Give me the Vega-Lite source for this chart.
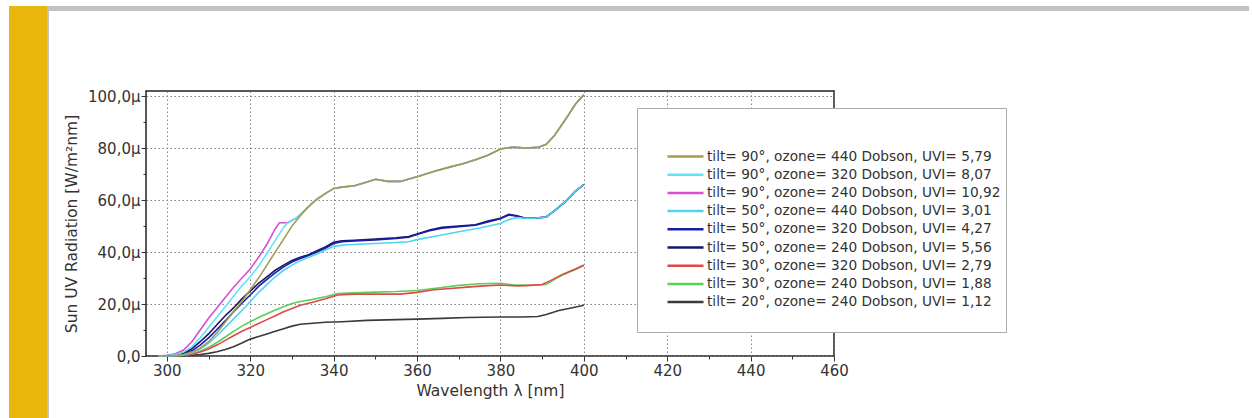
{
  "$schema": "https://vega.github.io/schema/vega-lite/v6.json",
  "background": "white",
  "padding": {"left": 9, "top": 6, "right": 0, "bottom": 0},
  "bounds": "flush",
  "spacing": 0,
  "config": {
    "font": "DejaVu Sans",
    "view": {"stroke": null}
  },
  "datasets": {
    "series": [
      {"code": "A", "label": "tilt= 90°, ozone= 440 Dobson, UVI= 5,79"},
      {"code": "B", "label": "tilt= 90°, ozone= 320 Dobson, UVI= 8,07"},
      {"code": "C", "label": "tilt= 90°, ozone= 240 Dobson, UVI= 10,92"},
      {"code": "D", "label": "tilt= 50°, ozone= 440 Dobson, UVI= 3,01"},
      {"code": "E", "label": "tilt= 50°, ozone= 320 Dobson, UVI= 4,27"},
      {"code": "F", "label": "tilt= 50°, ozone= 240 Dobson, UVI= 5,56"},
      {"code": "G", "label": "tilt= 30°, ozone= 320 Dobson, UVI= 2,79"},
      {"code": "H", "label": "tilt= 30°, ozone= 240 Dobson, UVI= 1,88"},
      {"code": "I", "label": "tilt= 20°, ozone= 240 Dobson, UVI= 1,12"}
    ],
    "spectra": [
      {"code":"I","nm":298,"v":0},{"code":"I","nm":304,"v":0.1},{"code":"I","nm":306,"v":0.3},{"code":"I","nm":308,"v":0.6},{"code":"I","nm":310,"v":1},{"code":"I","nm":312,"v":1.6},{"code":"I","nm":314,"v":2.5},{"code":"I","nm":316,"v":3.6},{"code":"I","nm":318,"v":5},{"code":"I","nm":320,"v":6.5},{"code":"I","nm":322,"v":7.5},{"code":"I","nm":324,"v":8.5},{"code":"I","nm":326,"v":9.5},{"code":"I","nm":328,"v":10.5},{"code":"I","nm":330,"v":11.5},{"code":"I","nm":332,"v":12.2},{"code":"I","nm":335,"v":12.6},{"code":"I","nm":338,"v":13},{"code":"I","nm":342,"v":13.2},{"code":"I","nm":348,"v":13.7},{"code":"I","nm":355,"v":14},{"code":"I","nm":360,"v":14.2},{"code":"I","nm":366,"v":14.5},{"code":"I","nm":372,"v":14.8},{"code":"I","nm":380,"v":15},{"code":"I","nm":385,"v":15},{"code":"I","nm":389,"v":15.2},{"code":"I","nm":391,"v":16},{"code":"I","nm":394,"v":17.5},{"code":"I","nm":397,"v":18.5},{"code":"I","nm":400,"v":19.5},
      {"code":"H","nm":298,"v":0},{"code":"H","nm":302,"v":0.1},{"code":"H","nm":304,"v":0.3},{"code":"H","nm":306,"v":0.8},{"code":"H","nm":308,"v":1.8},{"code":"H","nm":310,"v":3.3},{"code":"H","nm":312,"v":5.2},{"code":"H","nm":314,"v":7.3},{"code":"H","nm":316,"v":9.5},{"code":"H","nm":318,"v":11.5},{"code":"H","nm":320,"v":13.2},{"code":"H","nm":322,"v":14.8},{"code":"H","nm":324,"v":16.3},{"code":"H","nm":326,"v":17.7},{"code":"H","nm":328,"v":19},{"code":"H","nm":330,"v":20.2},{"code":"H","nm":332,"v":21},{"code":"H","nm":335,"v":21.8},{"code":"H","nm":338,"v":22.8},{"code":"H","nm":341,"v":24},{"code":"H","nm":345,"v":24.3},{"code":"H","nm":350,"v":24.6},{"code":"H","nm":355,"v":24.8},{"code":"H","nm":360,"v":25.2},{"code":"H","nm":365,"v":26.2},{"code":"H","nm":370,"v":27.2},{"code":"H","nm":375,"v":27.8},{"code":"H","nm":380,"v":28},{"code":"H","nm":383,"v":27.4},{"code":"H","nm":386,"v":27.2},{"code":"H","nm":389,"v":27.3},{"code":"H","nm":391,"v":27.5},{"code":"H","nm":393,"v":29.5},{"code":"H","nm":395,"v":31.3},{"code":"H","nm":398,"v":33.3},{"code":"H","nm":400,"v":34.8},
      {"code":"G","nm":298,"v":0},{"code":"G","nm":302,"v":0.1},{"code":"G","nm":304,"v":0.3},{"code":"G","nm":306,"v":0.7},{"code":"G","nm":308,"v":1.5},{"code":"G","nm":310,"v":2.7},{"code":"G","nm":312,"v":4.2},{"code":"G","nm":314,"v":6},{"code":"G","nm":316,"v":7.8},{"code":"G","nm":318,"v":9.5},{"code":"G","nm":320,"v":11},{"code":"G","nm":322,"v":12.5},{"code":"G","nm":324,"v":14},{"code":"G","nm":326,"v":15.5},{"code":"G","nm":328,"v":17},{"code":"G","nm":330,"v":18.3},{"code":"G","nm":332,"v":19.5},{"code":"G","nm":335,"v":20.7},{"code":"G","nm":338,"v":22},{"code":"G","nm":341,"v":23.5},{"code":"G","nm":345,"v":23.8},{"code":"G","nm":350,"v":23.8},{"code":"G","nm":356,"v":23.8},{"code":"G","nm":360,"v":24.5},{"code":"G","nm":364,"v":25.5},{"code":"G","nm":368,"v":26},{"code":"G","nm":372,"v":26.5},{"code":"G","nm":376,"v":27},{"code":"G","nm":380,"v":27.3},{"code":"G","nm":384,"v":27},{"code":"G","nm":387,"v":27.2},{"code":"G","nm":390,"v":27.5},{"code":"G","nm":392,"v":29},{"code":"G","nm":395,"v":31.5},{"code":"G","nm":398,"v":33.5},{"code":"G","nm":400,"v":35},
      {"code":"F","nm":298,"v":0},{"code":"F","nm":300,"v":0.2},{"code":"F","nm":302,"v":0.5},{"code":"F","nm":304,"v":1.2},{"code":"F","nm":306,"v":2.8},{"code":"F","nm":308,"v":5.5},{"code":"F","nm":310,"v":8.5},{"code":"F","nm":312,"v":12},{"code":"F","nm":314,"v":15.5},{"code":"F","nm":316,"v":18.5},{"code":"F","nm":318,"v":22},{"code":"F","nm":320,"v":25},{"code":"F","nm":322,"v":28},{"code":"F","nm":324,"v":30.5},{"code":"F","nm":326,"v":33},{"code":"F","nm":328,"v":35},{"code":"F","nm":330,"v":36.8},{"code":"F","nm":332,"v":38},{"code":"F","nm":334,"v":39},{"code":"F","nm":336,"v":40.5},{"code":"F","nm":338,"v":42},{"code":"F","nm":340,"v":43.8},{"code":"F","nm":342,"v":44.3},{"code":"F","nm":345,"v":44.5},{"code":"F","nm":350,"v":45},{"code":"F","nm":355,"v":45.5},{"code":"F","nm":358,"v":46},{"code":"F","nm":360,"v":47},{"code":"F","nm":363,"v":48.5},{"code":"F","nm":366,"v":49.5},{"code":"F","nm":370,"v":50},{"code":"F","nm":374,"v":50.5},{"code":"F","nm":377,"v":52},{"code":"F","nm":380,"v":53},{"code":"F","nm":382,"v":54.5},{"code":"F","nm":384,"v":54},{"code":"F","nm":386,"v":53},{"code":"F","nm":388,"v":53},{"code":"F","nm":391,"v":53.5},{"code":"F","nm":393,"v":56},{"code":"F","nm":396,"v":60},{"code":"F","nm":398,"v":63.5},{"code":"F","nm":400,"v":66},
      {"code":"E","nm":298,"v":0},{"code":"E","nm":300,"v":0.1},{"code":"E","nm":302,"v":0.3},{"code":"E","nm":304,"v":0.8},{"code":"E","nm":306,"v":2},{"code":"E","nm":308,"v":4.2},{"code":"E","nm":310,"v":7},{"code":"E","nm":312,"v":10.2},{"code":"E","nm":314,"v":13.5},{"code":"E","nm":316,"v":17},{"code":"E","nm":318,"v":20.3},{"code":"E","nm":320,"v":23.5},{"code":"E","nm":322,"v":26.8},{"code":"E","nm":324,"v":29.5},{"code":"E","nm":326,"v":32},{"code":"E","nm":328,"v":34.3},{"code":"E","nm":330,"v":36.2},{"code":"E","nm":332,"v":37.5},{"code":"E","nm":334,"v":38.7},{"code":"E","nm":336,"v":40},{"code":"E","nm":338,"v":41.5},{"code":"E","nm":340,"v":43.3},{"code":"E","nm":342,"v":44},{"code":"E","nm":345,"v":44.3},{"code":"E","nm":350,"v":44.7},{"code":"E","nm":355,"v":45.2},{"code":"E","nm":358,"v":45.7},{"code":"E","nm":360,"v":46.8},{"code":"E","nm":363,"v":48.2},{"code":"E","nm":366,"v":49.2},{"code":"E","nm":370,"v":49.8},{"code":"E","nm":374,"v":50.3},{"code":"E","nm":377,"v":51.6},{"code":"E","nm":380,"v":52.8},{"code":"E","nm":382,"v":54.3},{"code":"E","nm":384,"v":53.8},{"code":"E","nm":386,"v":53},{"code":"E","nm":388,"v":53},{"code":"E","nm":391,"v":53.5},{"code":"E","nm":393,"v":56},{"code":"E","nm":396,"v":60},{"code":"E","nm":398,"v":63.5},{"code":"E","nm":400,"v":66},
      {"code":"D","nm":298,"v":0},{"code":"D","nm":302,"v":0.1},{"code":"D","nm":304,"v":0.4},{"code":"D","nm":306,"v":1.2},{"code":"D","nm":308,"v":2.7},{"code":"D","nm":310,"v":5},{"code":"D","nm":312,"v":7.8},{"code":"D","nm":314,"v":11},{"code":"D","nm":316,"v":14.3},{"code":"D","nm":318,"v":17.5},{"code":"D","nm":320,"v":21},{"code":"D","nm":322,"v":24.5},{"code":"D","nm":324,"v":27.5},{"code":"D","nm":326,"v":30.5},{"code":"D","nm":328,"v":33},{"code":"D","nm":330,"v":35},{"code":"D","nm":332,"v":36.7},{"code":"D","nm":334,"v":38},{"code":"D","nm":336,"v":39.3},{"code":"D","nm":338,"v":40.8},{"code":"D","nm":340,"v":42.2},{"code":"D","nm":343,"v":42.8},{"code":"D","nm":346,"v":43},{"code":"D","nm":350,"v":43.3},{"code":"D","nm":355,"v":43.7},{"code":"D","nm":358,"v":44},{"code":"D","nm":360,"v":44.8},{"code":"D","nm":365,"v":46.3},{"code":"D","nm":370,"v":47.8},{"code":"D","nm":375,"v":49.3},{"code":"D","nm":380,"v":51},{"code":"D","nm":382,"v":52.5},{"code":"D","nm":384,"v":53.3},{"code":"D","nm":386,"v":53},{"code":"D","nm":388,"v":53},{"code":"D","nm":391,"v":53.5},{"code":"D","nm":393,"v":56},{"code":"D","nm":396,"v":60},{"code":"D","nm":398,"v":63.5},{"code":"D","nm":400,"v":66},
      {"code":"C","nm":298,"v":0},{"code":"C","nm":300,"v":0.3},{"code":"C","nm":302,"v":0.9},{"code":"C","nm":304,"v":2.3},{"code":"C","nm":306,"v":5.5},{"code":"C","nm":308,"v":10},{"code":"C","nm":310,"v":14.5},{"code":"C","nm":312,"v":18.5},{"code":"C","nm":314,"v":22.5},{"code":"C","nm":316,"v":26.5},{"code":"C","nm":318,"v":30},{"code":"C","nm":320,"v":33.5},{"code":"C","nm":322,"v":38},{"code":"C","nm":324,"v":43},{"code":"C","nm":326,"v":49},{"code":"C","nm":327,"v":51.3},{"code":"C","nm":329,"v":51.3},{"code":"C","nm":331,"v":53},{"code":"C","nm":333,"v":56},{"code":"C","nm":335,"v":59},{"code":"C","nm":338,"v":62.5},{"code":"C","nm":340,"v":64.5},{"code":"C","nm":342,"v":65},{"code":"C","nm":345,"v":65.5},{"code":"C","nm":348,"v":67},{"code":"C","nm":350,"v":68},{"code":"C","nm":353,"v":67.2},{"code":"C","nm":356,"v":67.2},{"code":"C","nm":360,"v":69},{"code":"C","nm":364,"v":71},{"code":"C","nm":368,"v":72.8},{"code":"C","nm":371,"v":74},{"code":"C","nm":374,"v":75.5},{"code":"C","nm":377,"v":77.3},{"code":"C","nm":380,"v":79.7},{"code":"C","nm":383,"v":80.4},{"code":"C","nm":386,"v":80},{"code":"C","nm":389,"v":80.3},{"code":"C","nm":391,"v":81.5},{"code":"C","nm":393,"v":85},{"code":"C","nm":396,"v":92},{"code":"C","nm":398,"v":97},{"code":"C","nm":400,"v":100.5},
      {"code":"B","nm":298,"v":0},{"code":"B","nm":300,"v":0.2},{"code":"B","nm":302,"v":0.5},{"code":"B","nm":304,"v":1.5},{"code":"B","nm":306,"v":3.5},{"code":"B","nm":308,"v":7},{"code":"B","nm":310,"v":11},{"code":"B","nm":312,"v":15},{"code":"B","nm":314,"v":19},{"code":"B","nm":316,"v":23},{"code":"B","nm":318,"v":27},{"code":"B","nm":320,"v":30.5},{"code":"B","nm":322,"v":34.5},{"code":"B","nm":324,"v":39.5},{"code":"B","nm":326,"v":44.5},{"code":"B","nm":328,"v":49.5},{"code":"B","nm":329,"v":51.3},{"code":"B","nm":331,"v":53},{"code":"B","nm":333,"v":56},{"code":"B","nm":335,"v":59},{"code":"B","nm":338,"v":62.5},{"code":"B","nm":340,"v":64.5},{"code":"B","nm":342,"v":65},{"code":"B","nm":345,"v":65.5},{"code":"B","nm":348,"v":67},{"code":"B","nm":350,"v":68},{"code":"B","nm":353,"v":67.2},{"code":"B","nm":356,"v":67.2},{"code":"B","nm":360,"v":69},{"code":"B","nm":364,"v":71},{"code":"B","nm":368,"v":72.8},{"code":"B","nm":371,"v":74},{"code":"B","nm":374,"v":75.5},{"code":"B","nm":377,"v":77.3},{"code":"B","nm":380,"v":79.7},{"code":"B","nm":383,"v":80.4},{"code":"B","nm":386,"v":80},{"code":"B","nm":389,"v":80.3},{"code":"B","nm":391,"v":81.5},{"code":"B","nm":393,"v":85},{"code":"B","nm":396,"v":92},{"code":"B","nm":398,"v":97},{"code":"B","nm":400,"v":100.5},
      {"code":"A","nm":298,"v":0},{"code":"A","nm":300,"v":0.1},{"code":"A","nm":302,"v":0.2},{"code":"A","nm":304,"v":0.6},{"code":"A","nm":306,"v":1.5},{"code":"A","nm":308,"v":3},{"code":"A","nm":310,"v":5.5},{"code":"A","nm":312,"v":9},{"code":"A","nm":314,"v":13},{"code":"A","nm":316,"v":17},{"code":"A","nm":318,"v":21},{"code":"A","nm":320,"v":25.5},{"code":"A","nm":322,"v":30},{"code":"A","nm":324,"v":35},{"code":"A","nm":326,"v":40},{"code":"A","nm":328,"v":45},{"code":"A","nm":330,"v":50},{"code":"A","nm":332,"v":54},{"code":"A","nm":334,"v":57.5},{"code":"A","nm":336,"v":60.5},{"code":"A","nm":338,"v":62.5},{"code":"A","nm":340,"v":64.5},{"code":"A","nm":342,"v":65},{"code":"A","nm":345,"v":65.5},{"code":"A","nm":348,"v":67},{"code":"A","nm":350,"v":68},{"code":"A","nm":353,"v":67.2},{"code":"A","nm":356,"v":67.2},{"code":"A","nm":360,"v":69},{"code":"A","nm":364,"v":71},{"code":"A","nm":368,"v":72.8},{"code":"A","nm":371,"v":74},{"code":"A","nm":374,"v":75.5},{"code":"A","nm":377,"v":77.3},{"code":"A","nm":380,"v":79.7},{"code":"A","nm":383,"v":80.4},{"code":"A","nm":386,"v":80},{"code":"A","nm":389,"v":80.3},{"code":"A","nm":391,"v":81.5},{"code":"A","nm":393,"v":85},{"code":"A","nm":396,"v":92},{"code":"A","nm":398,"v":97},{"code":"A","nm":400,"v":100.5}
    ]
  },
  "hconcat": [
    {
      "width": 38, "height": 412,
      "data": {"values": []},
      "mark": "rule",
      "encoding": {},
      "view": {"fill": "#e9b70c", "stroke": null}
    },
    {
      "vconcat": [
        {
          "width": 1202, "height": 5,
          "data": {"values": []},
          "mark": "rule",
          "encoding": {},
          "view": {"fill": "#c2c2c2", "stroke": null}
        },
        {
          "hconcat": [
            {
              "width": 1, "height": 265,
              "data": {"values": []},
              "mark": "rule",
              "encoding": {},
              "view": {"stroke": null}
            },
            {
              "width": 688, "height": 265,
              "data": {"name": "spectra"},
              "transform": [
                {"lookup": "code", "from": {"data": {"name": "series"}, "key": "code", "fields": ["label"]}}
              ],
              "mark": {"type": "line", "strokeWidth": 1.6},
              "view": {"stroke": "#222", "strokeWidth": 1.5},
              "encoding": {
                "x": {
                  "field": "nm", "type": "quantitative",
                  "scale": {"domain": [295, 460], "nice": false, "zero": false},
                  "axis": {
                    "values": [300, 310, 320, 330, 340, 350, 360, 370, 380, 390, 400, 410, 420, 430, 440, 450, 460],
                    "labelExpr": "datum.value % 20 == 0 ? datum.label : ''",
                    "title": "Wavelength λ [nm]",
                    "domain": false,
                    "grid": true, "gridDash": [1.5, 2.5], "gridColor": "#777",
                    "gridOpacity": {"condition": {"test": "datum.value % 20 == 0", "value": 0.9}, "value": 0},
                    "tickSize": {"condition": {"test": "datum.value % 20 == 0", "value": 5}, "value": 3},
                    "tickColor": "#333",
                    "labelFlush": false, "labelPadding": 2, "labelFontSize": 15, "labelColor": "#333",
                    "titleFontSize": 15.5, "titleFontWeight": "normal", "titleColor": "#333", "titlePadding": 5
                  }
                },
                "y": {
                  "field": "v", "type": "quantitative",
                  "scale": {"domain": [0, 102], "nice": false},
                  "axis": {
                    "values": [0, 10, 20, 30, 40, 50, 60, 70, 80, 90, 100],
                    "labelExpr": "datum.value % 20 != 0 ? '' : (datum.value == 0 ? '0,0' : replace(format(datum.value, '.1f'), '.', ',') + 'µ')",
                    "title": "Sun UV Radiation [W/m²nm]",
                    "domain": false,
                    "grid": true, "gridDash": [1.5, 2.5], "gridColor": "#777",
                    "gridOpacity": {"condition": {"test": "datum.value % 20 == 0", "value": 0.9}, "value": 0},
                    "tickSize": {"condition": {"test": "datum.value % 20 == 0", "value": 5}, "value": 3},
                    "tickColor": "#333",
                    "labelPadding": 1, "labelFontSize": 15, "labelColor": "#333",
                    "titleFontSize": 15.5, "titleFontWeight": "normal", "titleColor": "#333", "titlePadding": 8
                  }
                },
                "color": {
                  "field": "label", "type": "nominal",
                  "scale": {
                    "domain": [
                      "tilt= 90°, ozone= 440 Dobson, UVI= 5,79",
                      "tilt= 90°, ozone= 320 Dobson, UVI= 8,07",
                      "tilt= 90°, ozone= 240 Dobson, UVI= 10,92",
                      "tilt= 50°, ozone= 440 Dobson, UVI= 3,01",
                      "tilt= 50°, ozone= 320 Dobson, UVI= 4,27",
                      "tilt= 50°, ozone= 240 Dobson, UVI= 5,56",
                      "tilt= 30°, ozone= 320 Dobson, UVI= 2,79",
                      "tilt= 30°, ozone= 240 Dobson, UVI= 1,88",
                      "tilt= 20°, ozone= 240 Dobson, UVI= 1,12",
                      " "
                    ],
                    "range": ["#a09c52", "#5ee4f4", "#d64fd6", "#4dd6ec", "#1c1caa", "#16166a", "#e04848", "#5acf5a", "#3a3a3a", "rgba(0,0,0,0)"]
                  },
                  "legend": {
                    "orient": "none", "legendX": 628, "legendY": 102,
                    "title": " ", "titleFontSize": 20, "titlePadding": 16,
                    "padding": 5, "strokeColor": "#aaa", "fillColor": "white",
                    "symbolType": "M-3,0H3", "symbolSize": 144, "symbolStrokeWidth": 2.5,
                    "symbolOffset": 36, "labelOffset": 14,
                    "labelFontSize": 13.7, "labelColor": "#333", "labelLimit": 500,
                    "rowPadding": 3.2
                  }
                }
              }
            }
          ],
          "spacing": 98,
          "bounds": "flush"
        }
      ],
      "spacing": 80,
      "bounds": "flush"
    },
    {
      "width": 2, "height": 412,
      "data": {"values": []},
      "mark": "rule",
      "encoding": {},
      "view": {"fill": "#c2c2c2", "stroke": null}
    }
  ]
}
